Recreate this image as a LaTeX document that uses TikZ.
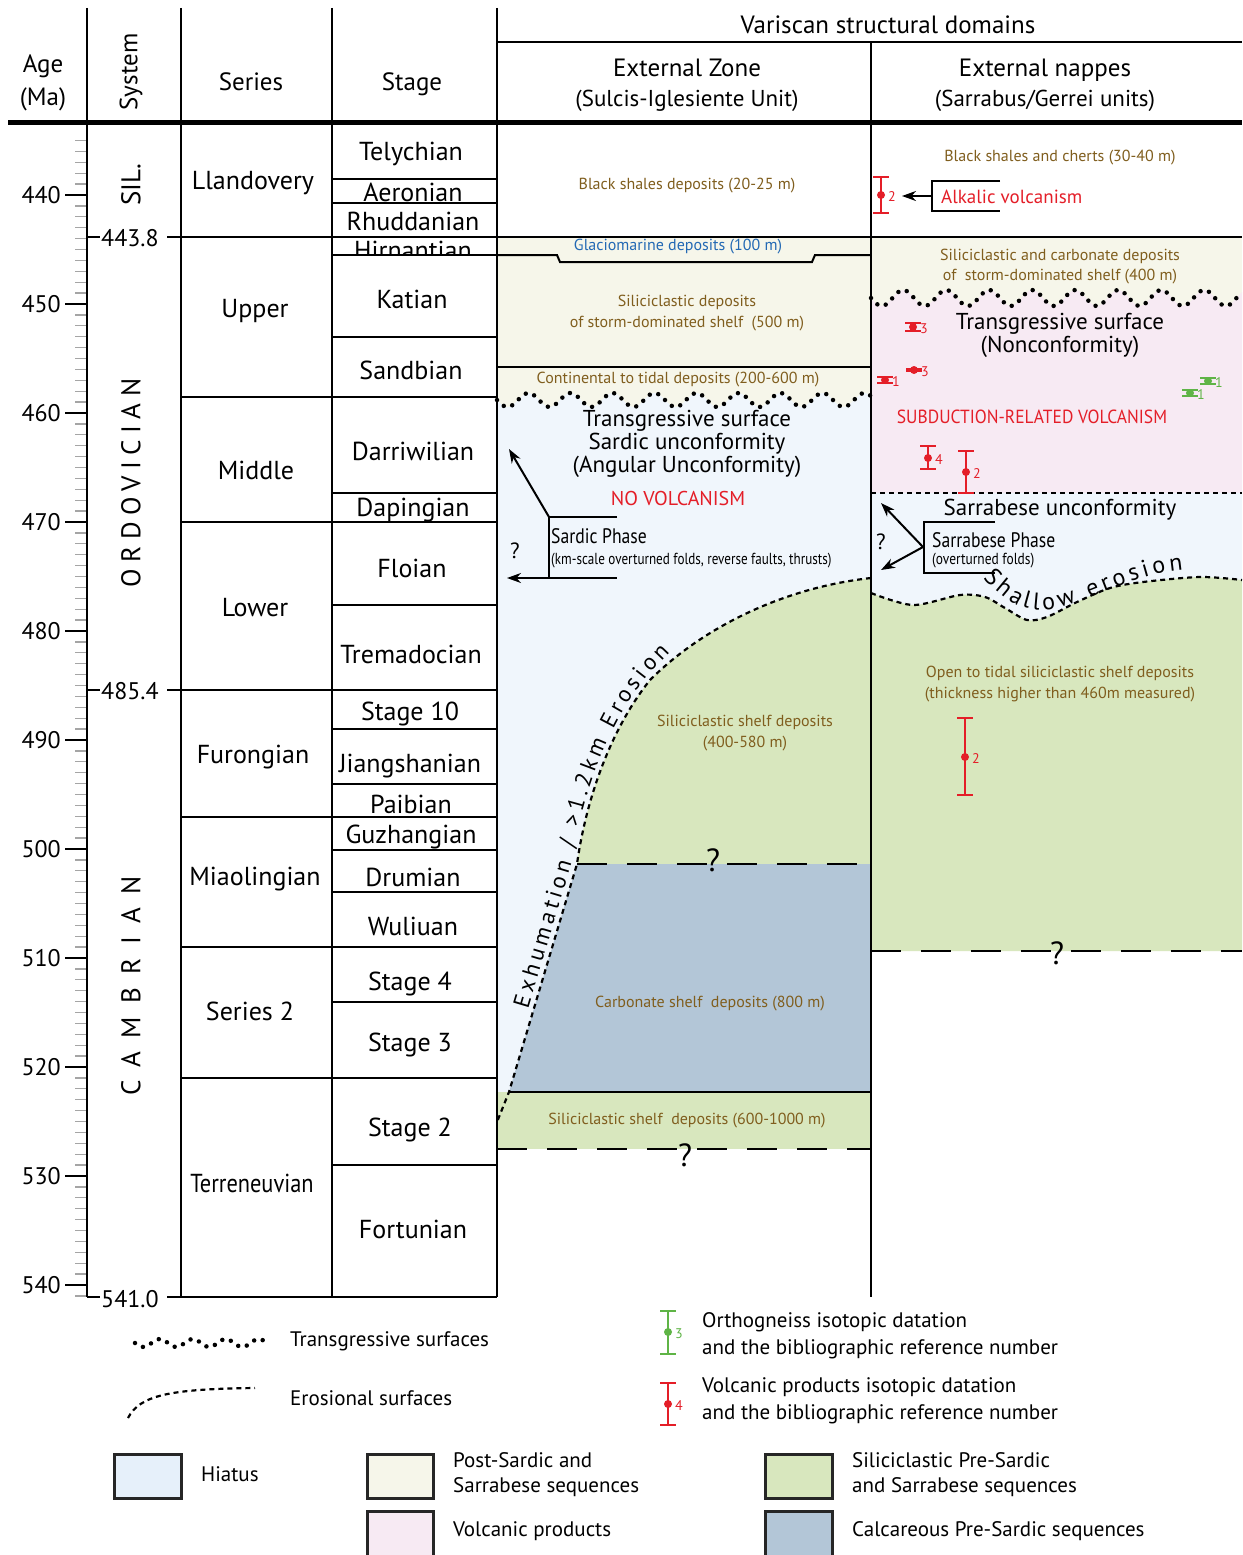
\documentclass[tikz,border=0pt]{standalone}
\usepackage{fontspec}
\setmainfont{PT Sans}
\usepackage{graphicx}
\usetikzlibrary{decorations.text,arrows.meta}
\definecolor{hiat}{RGB}{240,246,252}
\definecolor{hiatleg}{RGB}{230,240,250}
\definecolor{cream}{RGB}{246,246,234}
\definecolor{pinkv}{RGB}{247,234,243}
\definecolor{greenss}{RGB}{216,231,190}
\definecolor{carb}{RGB}{179,198,215}
\definecolor{brownt}{RGB}{128,94,30}
\definecolor{redv}{RGB}{228,30,40}
\definecolor{bluet}{RGB}{35,105,180}
\definecolor{greenb}{RGB}{95,180,70}
\definecolor{tickgray}{RGB}{165,165,165}
\newcommand{\fsz}[2]{\fontsize{#1}{#2}\selectfont}
\newcommand{\ebar}[7]{%
  \draw[#2, line width=1.6pt] ({#3-8},#4) -- ({#3+8},#4) (#3,#4) -- (#3,#5) ({#3-8},#5) -- ({#3+8},#5);
  \fill[#2] (#3,#6) circle[radius=4pt];
  \node[text=#2, font=\fsz{14}{14}, anchor=west, inner sep=0pt] (#1) at ({#3+7},{#6+2}) {#7};
}
\tikzset{
  every node/.style={inner sep=0pt},
  brn/.style={text=brownt, font=\fsz{16}{20}},
  big/.style={font=\fsz{26}{30}, anchor=base},
  hdr/.style={font=\fsz{25}{30}},
  midt/.style={font=\fsz{23}{27}},
  leg/.style={font=\fsz{21}{27}, anchor=west},
  frame/.style={line width=2.5pt},
  thin/.style={line width=2pt},
  transg/.style={line width=4.5pt, dash pattern=on 0pt off 9pt, line cap=round},
  erosl/.style={line width=2.2pt, dash pattern=on 5pt off 4pt},
  longdash/.style={line width=2.5pt, dash pattern=on 30pt off 20pt},
  arr/.style={line width=2pt, -{Stealth[length=14pt,width=10pt]}},
  legbox/.style={line width=3pt, draw=black!85},
}
\begin{document}
\begin{tikzpicture}[x=1pt,y=-1pt]
\useasboundingbox[fill=white] (0,0) rectangle (1242,1555);

% ---------- fills, middle column ----------
\fill[cream] (497,237) rectangle (871,410);
\fill[hiat] (497,400) -- plot[domain=497:871,samples=160] (\x,{400+7*sin((\x-497)*8.5714)})
  -- (871,578) .. controls (780,588) and (700,630) .. (650,680)
  .. controls (610,730) and (586,800) .. (577,864) -- (509,1092) -- (497,1122) -- cycle;
\fill[greenss] (871,578) .. controls (780,588) and (700,630) .. (650,680)
  .. controls (610,730) and (586,800) .. (577,864) -- (871,864) -- cycle;
\fill[carb] (577,864) -- (509,1092) -- (871,1092) -- (871,864) -- cycle;
\fill[greenss] (497,1092) rectangle (871,1149);

% ---------- fills, right column ----------
\fill[cream] (871,237) rectangle (1242,310);
\fill[pinkv] (871,298) -- plot[domain=871:1242,samples=160] (\x,{298+8*sin((\x-871)*8.372)})
  -- (1242,493) -- (871,493) -- cycle;
\fill[hiat] (871,493) rectangle (1242,625);
\fill[greenss] plot[smooth] coordinates {(871,593) (913,605) (960,595) (985,597) (1005,608) (1027,620) (1047,617) (1077,602) (1110,588) (1143,582) (1200,577) (1242,580)}
  -- (1242,951) -- (871,951) -- cycle;

% ---------- age ticks ----------
\foreach \a in {435,...,541} {
  \draw[tickgray, line width=1.3pt] (75,{195+(\a-440)*10.9}) -- (87,{195+(\a-440)*10.9});
}
\foreach \a in {440,450,...,540} {
  \draw[line width=1.6pt] (65,{195+(\a-440)*10.9}) -- (87,{195+(\a-440)*10.9});
  \node[font=\fsz{24}{28}, anchor=east] (age\a) at (61,{195+(\a-440)*10.9}) {\a};
}

% ---------- frame ----------
\draw[frame] (87,8) -- (87,1297);
\draw[frame] (181,8) -- (181,1297);
\draw[frame] (332,8) -- (332,1297);
\draw[frame] (497,8) -- (497,1297);
\draw[frame] (871,42) -- (871,1297);
\draw[frame] (497,42) -- (1242,42);
\draw[line width=5pt] (8,122) -- (1242,122);

% boundary lines with labels
\draw[frame] (87,237) -- (100,237) (167,237) -- (1242,237);
\draw[frame] (87,690) -- (100,690) (167,690) -- (497,690);
\draw[frame] (87,1297) -- (100,1297) (167,1297) -- (497,1297);
\node[font=\fsz{24}{28}, anchor=west] (b443) at (101,238) {443.8};
\node[font=\fsz{24}{28}, anchor=west] (b485) at (101,691) {485.4};
\node[font=\fsz{24}{28}, anchor=west] (b541) at (101,1299) {541.0};

% series boundaries
\foreach \yy in {397,522,817,947,1078} { \draw[thin] (181,\yy) -- (497,\yy); }
% stage boundaries
\foreach \yy in {179,203,255,337,493,605,729,784,850,892,1002,1165} { \draw[thin] (332,\yy) -- (497,\yy); }

% ---------- header ----------
\node[hdr, anchor=base] (hAge) at (43,73) {Age};
\node[hdr, anchor=base] (hMa) at (43,105) {(Ma)};
\node[hdr, rotate=90] (hSys) at (131,72) {System};
\node[hdr, anchor=base] (hSer) at (251,90) {Series};
\node[hdr, anchor=base] (hStg) at (412,90) {Stage};
\node[hdr, anchor=base] (hVar) at (888,34) {Variscan structural domains};
\node[hdr, anchor=base] (hEZ) at (687,77) {External Zone};
\node[midt, anchor=base] (hEZb) at (687,106) {(Sulcis-Iglesiente Unit)};
\node[hdr, anchor=base] (hEN) at (1045,77) {External nappes};
\node[midt, anchor=base] (hENb) at (1045,106) {(Sarrabus/Gerrei units)};

% ---------- systems ----------
\node[font=\fsz{27}{30}, rotate=90] (sSil) at (131,185) {SIL.};
\node[font=\fsz{27}{30}\addfontfeature{LetterSpace=24}, rotate=90] (sOrd) at (131,483) {ORDOVICIAN};
\node[font=\fsz{27}{30}\addfontfeature{LetterSpace=50}, rotate=90] (sCam) at (131,986) {CAMBRIAN};

% ---------- series ----------
\node[big] (sLla) at (253,189) {Llandovery};
\node[big] (sUpp) at (255,317) {Upper};
\node[big] (sMid) at (256,479) {Middle};
\node[big] (sLow) at (255,616) {Lower};
\node[big] (sFur) at (253,763) {Furongian};
\node[big] (sMia) at (255,885) {Miaolingian};
\node[big] (sSe2) at (250,1020) {Series 2};
\node[big] (sTer) at (252,1192) {\scalebox{0.86}[1]{Terreneuvian}};

% ---------- stages ----------
\node[big] (tTel) at (411,160) {Telychian};
\node[big] (tAer) at (413,201) {Aeronian};
\node[big] (tRhu) at (413,230) {Rhuddanian};
\begin{scope}
  \clip (333,238) rectangle (496,254);
  \node[big] (tHir) at (413,259) {Hirnantian};
\end{scope}
\node[big] (tKat) at (412,308) {Katian};
\node[big] (tSan) at (411,379) {Sandbian};
\node[big] (tDar) at (413,460) {Darriwilian};
\node[big] (tDap) at (413,516) {Dapingian};
\node[big] (tFlo) at (412,577) {Floian};
\node[big] (tTre) at (411,663) {Tremadocian};
\node[big] (tS10) at (410,720) {Stage 10};
\node[big] (tJia) at (410,772) {Jiangshanian};
\node[big] (tPai) at (411,813) {Paibian};
\node[big] (tGuz) at (411,843) {Guzhangian};
\node[big] (tDru) at (413,886) {Drumian};
\node[big] (tWul) at (413,935) {Wuliuan};
\node[big] (tS4) at (410,990) {Stage 4};
\node[big] (tS3) at (410,1051) {Stage 3};
\node[big] (tS2) at (410,1136) {Stage 2};
\node[big] (tFor) at (413,1238) {Fortunian};

% ---------- middle column lines ----------
\draw[thin] (497,255) -- (557,255) -- (560,262) -- (812,262) -- (815,255) -- (871,255);
\draw[thin] (497,367) -- (871,367);
\draw[thin] (509,1092) -- (871,1092);
\draw[transg] plot[domain=497:871,samples=160] (\x,{400+7*sin((\x-497)*8.5714)});
\draw[erosl] (871,578) .. controls (780,588) and (700,630) .. (650,680)
  .. controls (610,730) and (586,800) .. (577,864) -- (509,1092) -- (497,1122);
\draw[longdash] (577,864) -- (871,864);
\draw[longdash] (497,1149) -- (871,1149);
\node[font=\fsz{32}{34}] (q1) at (713,860) {?};
\node[font=\fsz{32}{34}] (q2) at (685,1155) {?};

% ---------- right column lines ----------
\draw[transg] plot[domain=871:1242,samples=160] (\x,{298+8*sin((\x-871)*8.372)});
\draw[erosl] (871,493) -- (1242,493);
\draw[erosl] plot[smooth] coordinates {(871,593) (913,605) (960,595) (985,597) (1005,608) (1027,620) (1047,617) (1077,602) (1110,588) (1143,582) (1200,577) (1242,580)};
\draw[longdash] (871,951) -- (1242,951);
\node[font=\fsz{32}{34}] (q3) at (1057,953) {?};

% ---------- middle column texts ----------
\node[brn] (bsd) at (687,186) {Black shales deposits (20-25 m)};
\node[brn, text=bluet] (gla) at (678,247) {Glaciomarine deposits (100 m)};
\node[brn] (sil1) at (687,302) {Siliciclastic deposits};
\node[brn] (sil2) at (687,324) {of storm-dominated shelf\ \ (500 m)};
\node[brn] (con) at (678,380) {Continental to tidal deposits (200-600 m)};
\node[midt] (ts1) at (687,421) {Transgressive surface};
\node[midt] (ts2) at (687,444) {Sardic unconformity};
\node[midt] (ts3) at (687,467) {(Angular Unconformity)};
\node[font=\fsz{20}{24}, text=redv] (nov) at (678,498) {NO VOLCANISM};
\node[font=\fsz{21}{24}, anchor=west] (sph) at (551,536) {\scalebox{0.84}[1]{Sardic Phase}};
\node[font=\fsz{16}{20}, anchor=west] (sph2) at (551,561) {\scalebox{0.82}[1]{(km-scale overturned folds, reverse faults, thrusts)}};
\node[font=\fsz{22}{24}] (qs) at (515,551) {?};
\node[brn] (ssd1) at (745,722) {Siliciclastic shelf deposits};
\node[brn] (ssd2) at (745,744) {(400-580 m)};
\node[brn] (cbd) at (710,1004) {Carbonate shelf\ \ deposits (800 m)};
\node[brn] (ssd3) at (687,1121) {Siliciclastic shelf\ \ deposits (600-1000 m)};

% Sardic phase bracket and arrows
\coordinate (sTop) at (549,517);
\coordinate (sBot) at (549,578);
\coordinate (sUpTip) at (509,449);
\coordinate (sLeftTip) at (507,578);
\draw[thin] (617,517) -- (sTop) -- (sBot) -- (617,578);
\draw[arr] (sTop) -- (sUpTip);
\draw[arr] (sBot) -- (sLeftTip);

% erosion text
\path[decorate, decoration={text along path, text align=fit to path,
  text={|\fsz{23}{23}|Exhumation / >1.2km Erosion}}]
  (528,1009) -- (572,862) .. controls (581,799) and (606,728) .. (646,677) -- (670,652);

% ---------- right column texts ----------
\node[brn] (bsc) at (1060,158) {Black shales and cherts (30-40 m)};
\node[font=\fsz{19}{22}, text=redv, anchor=west] (alk) at (941,197) {Alkalic volcanism};
\coordinate (aBr) at (932,196);
\coordinate (aTip) at (902,196);
\draw[thin] (1000,181) -- (932,181) -- (932,211) -- (1000,211);
\draw[arr] (aBr) -- (aTip);
\node[brn] (scd1) at (1060,256) {Siliciclastic and carbonate deposits};
\node[brn] (scd2) at (1060,277) {of\ \ storm-dominated shelf (400 m)};
\node[midt] (tsn1) at (1060,324) {Transgressive surface};
\node[midt] (tsn2) at (1060,347) {(Nonconformity)};
\node[font=\fsz{19}{22}, text=redv] (sub) at (1032,417) {\scalebox{0.92}[1]{SUBDUCTION-RELATED VOLCANISM}};
\node[midt] (sun) at (1060,510) {Sarrabese unconformity};
\node[font=\fsz{21}{24}, anchor=west] (srp) at (932,540) {\scalebox{0.84}[1]{Sarrabese Phase}};
\node[font=\fsz{16}{20}, anchor=west] (srp2) at (932,561) {\scalebox{0.84}[1]{(overturned folds)}};
\node[font=\fsz{22}{24}] (qr) at (881,542) {?};
\coordinate (rMid) at (923,547);
\coordinate (rUp) at (881,503);
\coordinate (rDn) at (881,570);
\draw[thin] (995,522) -- (924,522) -- (924,573) -- (995,573);
\draw[arr] (rMid) -- (rUp);
\draw[arr] (rMid) -- (rDn);
\path[decorate, decoration={text along path, text align=fit to path,
  text={|\fsz{24}{24}|Shallow erosion}}]
  (983,578) .. controls (1000,595) and (1015,610) .. (1042,610) .. controls (1075,610) and (1130,574) .. (1183,570);
\node[brn] (otd1) at (1060,673) {Open to tidal siliciclastic shelf deposits};
\node[brn] (otd2) at (1060,695) {(thickness higher than 460m measured)};

% error bars
\ebar{e1}{redv}{881}{177}{213}{195}{2}
\ebar{e2}{redv}{913}{323}{331}{327}{3}
\ebar{e3}{redv}{914}{369}{371}{370}{3}
\ebar{e4}{redv}{885}{377}{383}{380}{1}
\ebar{e5}{greenb}{1208}{378}{384}{381}{1}
\ebar{e6}{greenb}{1190}{390}{396}{393}{1}
\ebar{e7}{redv}{928}{446}{469}{458}{4}
\ebar{e8}{redv}{966}{451}{493}{472}{2}
\ebar{e9}{redv}{965}{718}{795}{757}{2}

% ---------- legend ----------
\draw[transg] plot[domain=135:268,samples=60] (\x,{1343+4*sin((\x-135)*10.909)});
\node[leg] (lTr) at (290,1341) {Transgressive surfaces};
\draw[erosl] (128,1418) .. controls (140,1395) and (170,1389) .. (255,1388);
\node[leg] (lEr) at (290,1398) {Erosional surfaces};
\ebar{lg}{greenb}{668}{1311}{1354}{1332}{3}
\node[leg] (lOr1) at (702,1322) {Orthogneiss isotopic datation};
\node[leg] (lOr2) at (702,1349) {and the bibliographic reference number};
\ebar{lr}{redv}{668}{1383}{1425}{1404}{4}
\node[leg] (lVo1) at (702,1387) {Volcanic products isotopic datation};
\node[leg] (lVo2) at (702,1414) {and the bibliographic reference number};

\draw[legbox, fill=hiatleg] (114,1454) rectangle (181,1498);
\node[leg] (lHi) at (201,1474) {Hiatus};
\draw[legbox, fill=cream] (367,1454) rectangle (433,1498);
\node[leg] (lPs1) at (453,1460) {Post-Sardic and};
\node[leg] (lPs2) at (453,1487) {Sarrabese sequences};
\draw[legbox, fill=pinkv] (367,1511) rectangle (433,1557);
\node[leg] (lVp) at (453,1531) {Volcanic products};
\draw[legbox, fill=greenss] (765,1454) rectangle (832,1498);
\node[leg] (lSi1) at (852,1460) {Siliciclastic Pre-Sardic};
\node[leg] (lSi2) at (852,1487) {and Sarrabese sequences};
\draw[legbox, fill=carb] (765,1511) rectangle (832,1557);
\node[leg] (lCa) at (852,1531) {Calcareous Pre-Sardic sequences};
\end{tikzpicture}
\end{document}
